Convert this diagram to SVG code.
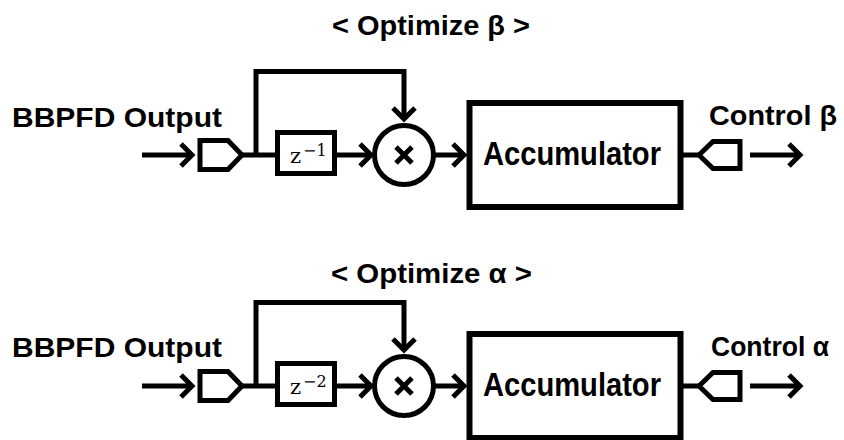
<svg xmlns="http://www.w3.org/2000/svg" width="844" height="440" viewBox="0 0 844 440">
  <defs>
    <style>
      .ln { fill: none; stroke: #000; stroke-width: 5; stroke-linejoin: miter; }
      .bx { fill: #fff; stroke: #000; stroke-width: 5; }
      .acc { fill: #fff; stroke: #000; stroke-width: 6; }
      .lbl { font-family: "Liberation Sans", Arial, sans-serif; font-weight: bold; fill: #000; }
      .math { font-family: "DejaVu Serif", "Liberation Serif", serif; fill: #000; }
    </style>
    <marker id="arrow" viewBox="-14 -14 18 28" refX="0" refY="0" markerWidth="18" markerHeight="28"
            markerUnits="userSpaceOnUse" orient="auto" overflow="visible">
      <path d="M-11,-11 L0,0 L-11,11" fill="none" stroke="#000" stroke-width="5" stroke-linejoin="miter"/>
    </marker>
  </defs>
  <rect width="844" height="440" fill="#fff"/>

  <!-- beta loop -->
  <g id="beta-loop">
    <text class="lbl" x="332" y="35" font-size="27" textLength="198" lengthAdjust="spacingAndGlyphs">&lt; Optimize β &gt;</text>
    <g id="beta-connectors">
      <path class="ln" d="M142,155 H192" marker-end="url(#arrow)"/>
      <path class="ln" d="M241,155 H278"/>
      <path class="ln" d="M256,155 V71.5 H404 V119" marker-end="url(#arrow)"/>
      <path class="ln" d="M334,155 H371" marker-end="url(#arrow)"/>
      <path class="ln" d="M433,155 H464" marker-end="url(#arrow)"/>
      <path class="ln" d="M680,155 H699"/>
      <path class="ln" d="M750,155 H800" marker-end="url(#arrow)"/>
    </g>
    <g id="beta-input">
      <text class="lbl" x="12" y="127" font-size="28" textLength="210" lengthAdjust="spacingAndGlyphs">BBPFD Output</text>
      <path class="bx" d="M200,140.5 H228 L242,155 L228,169.5 H200 Z"/>
    </g>
    <g id="beta-delay">
      <rect class="bx" x="277.5" y="132.5" width="57" height="41"/>
      <text class="math" x="290" y="163" font-size="21">z</text>
      <text class="math" x="303" y="156" font-size="16">−1</text>
    </g>
    <g id="beta-mult">
      <circle class="bx" cx="404" cy="155" r="29.5"/>
      <path class="ln" d="M396,147 L412,163 M412,147 L396,163" stroke-width="5.5"/>
    </g>
    <g id="beta-accumulator">
      <rect class="acc" x="469.5" y="103" width="211" height="104"/>
      <text class="lbl" x="483" y="165" font-size="33" textLength="178" lengthAdjust="spacingAndGlyphs">Accumulator</text>
    </g>
    <g id="beta-output">
      <path class="bx" d="M699,155 L713,141.5 H740 V168.5 H713 Z"/>
      <text class="lbl" x="709" y="125" font-size="28" textLength="128" lengthAdjust="spacingAndGlyphs">Control β</text>
    </g>
  </g>

  <!-- alpha loop -->
  <text class="lbl" x="331" y="283" font-size="27" textLength="201" lengthAdjust="spacingAndGlyphs">&lt; Optimize α &gt;</text>
  <g id="alpha-loop" transform="translate(0,231)">
    <g id="alpha-connectors">
      <path class="ln" d="M142,155 H192" marker-end="url(#arrow)"/>
      <path class="ln" d="M241,155 H278"/>
      <path class="ln" d="M256,155 V71.5 H404 V119" marker-end="url(#arrow)"/>
      <path class="ln" d="M334,155 H371" marker-end="url(#arrow)"/>
      <path class="ln" d="M433,155 H464" marker-end="url(#arrow)"/>
      <path class="ln" d="M680,155 H699"/>
      <path class="ln" d="M750,155 H800" marker-end="url(#arrow)"/>
    </g>
    <g id="alpha-input">
      <text class="lbl" x="12" y="126" font-size="28" textLength="210" lengthAdjust="spacingAndGlyphs">BBPFD Output</text>
      <path class="bx" d="M200,140.5 H228 L242,155 L228,169.5 H200 Z"/>
    </g>
    <g id="alpha-delay">
      <rect class="bx" x="277.5" y="132.5" width="57" height="41"/>
      <text class="math" x="290" y="163" font-size="21">z</text>
      <text class="math" x="303" y="156" font-size="16">−2</text>
    </g>
    <g id="alpha-mult">
      <circle class="bx" cx="404" cy="155" r="29.5"/>
      <path class="ln" d="M396,147 L412,163 M412,147 L396,163" stroke-width="5.5"/>
    </g>
    <g id="alpha-accumulator">
      <rect class="acc" x="469.5" y="103" width="211" height="104"/>
      <text class="lbl" x="483" y="165" font-size="33" textLength="178" lengthAdjust="spacingAndGlyphs">Accumulator</text>
    </g>
    <g id="alpha-output">
      <path class="bx" d="M699,155 L713,141.5 H740 V168.5 H713 Z"/>
      <text class="lbl" x="711" y="125" font-size="28" textLength="118" lengthAdjust="spacingAndGlyphs">Control α</text>
    </g>
  </g>
</svg>
